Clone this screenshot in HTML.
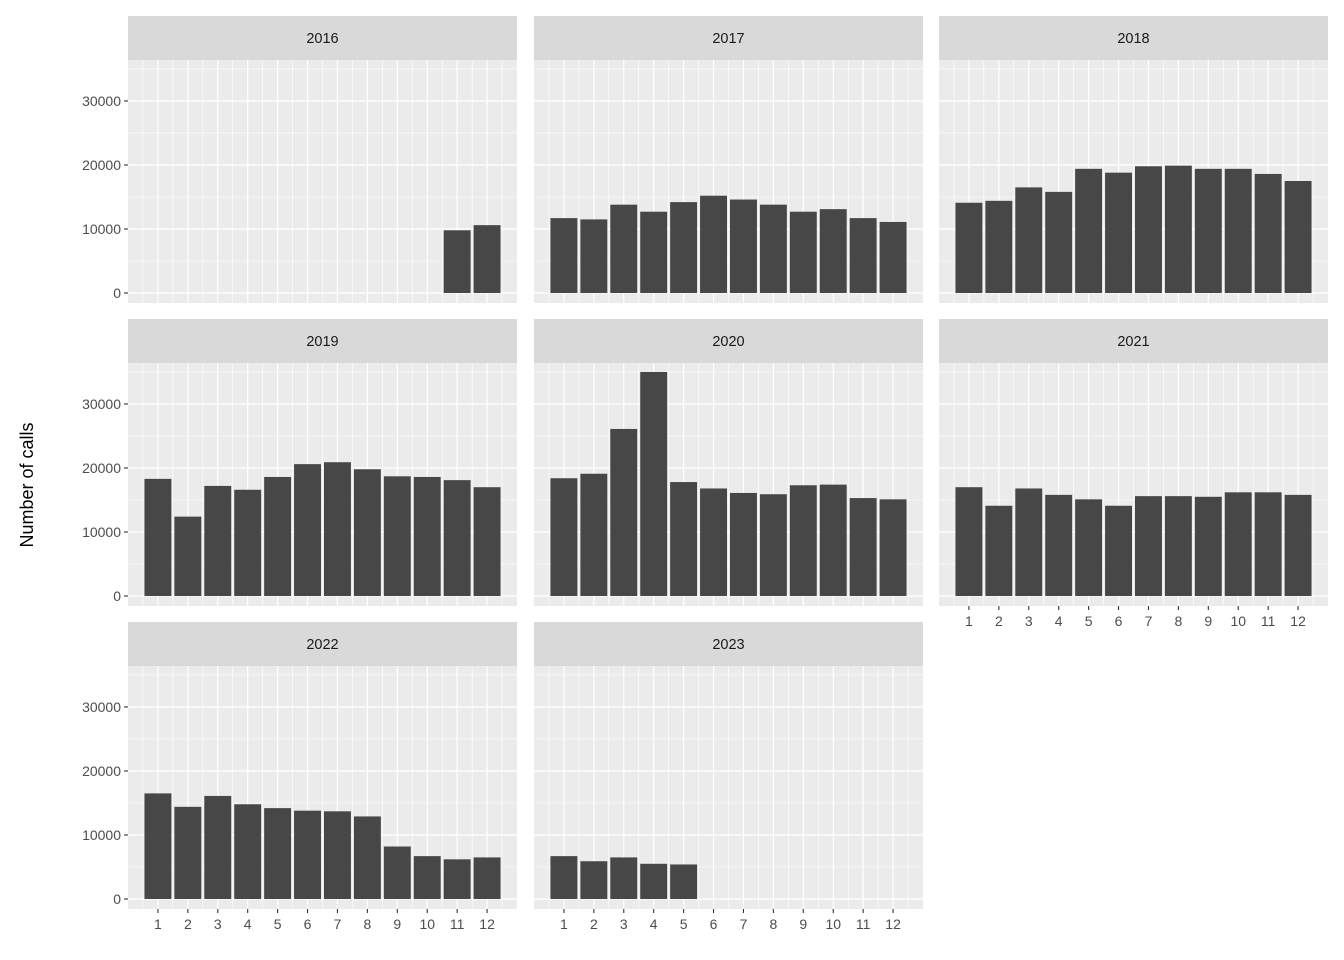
<!DOCTYPE html>
<html><head><meta charset="utf-8"><style>
body{margin:0;background:#fff}
svg{display:block;font-family:"Liberation Sans",Arial,sans-serif}
</style></head><body>
<svg id="c" width="1344" height="960"></svg>
<script>
const years = ["2016","2017","2018","2019","2020","2021","2022","2023"];
const months = [1,2,3,4,5,6,7,8,9,10,11,12];
const yTicks = [0,10000,20000,30000];
const v2016 = [null,null,null,null,null,null,null,null,null,null,9800,10600];
const v2017 = [11700,11500,13800,12700,14200,15200,14600,13800,12700,13100,11700,11100];
const v2018 = [14100,14400,16500,15800,19400,18800,19800,19900,19400,19400,18600,17500];
const v2019 = [18300,12400,17200,16600,18600,20600,20900,19800,18700,18600,18100,17000];
const v2020 = [18400,19100,26100,35000,17800,16800,16100,15900,17300,17400,15300,15100];
const v2021 = [17000,14100,16800,15800,15100,14100,15600,15600,15500,16200,16200,15800];
const v2022 = [16500,14400,16100,14800,14200,13800,13700,12900,8200,6700,6200,6500];
const v2023 = [6700,5900,6500,5500,5400,null,null,null,null,null,null,null];
const series = [v2016,v2017,v2018,v2019,v2020,v2021,v2022,v2023];

const NS="http://www.w3.org/2000/svg";
const svg=document.getElementById('c');
function mk(tag,attrs,parent){const e=document.createElementNS(NS,tag);for(const k in attrs)e.setAttribute(k,attrs[k]);(parent||svg).appendChild(e);return e;}
const colX=[128,534,939], PW=389;
const rowTop=[60,363,666], PH=243, stripH=44;
const yMin=-1560, yMax=36400;
const xMin=0, xMax=13;
const showX=[false,false,false,false,false,true,true,true];
years.forEach((yr,i)=>{
  const col=i%3,row=Math.floor(i/3);
  const x0=colX[col],y0=rowTop[row];
  const sx=v=>x0+(v-xMin)/(xMax-xMin)*PW;
  const sy=v=>y0+PH-(v-yMin)/(yMax-yMin)*PH;
  const g=mk('g',{});
  
  
  const st=mk('rect',{x:x0,y:y0-stripH,width:PW,height:stripH,fill:'#d9d9d9'},g);
  
  const stt=mk('text',{x:x0+PW/2,y:y0-stripH/2+5,'text-anchor':'middle','font-size':'14.5',fill:'#1a1a1a'},g);
  stt.textContent=yr;
  mk('rect',{x:x0,y:y0,width:PW,height:PH,fill:'#ebebeb'},g);
  [5000,15000,25000,35000].forEach(t=>mk('line',{x1:x0,x2:x0+PW,y1:sy(t),y2:sy(t),stroke:'#fff','stroke-width':0.6},g));
  months.forEach(m=>mk('line',{x1:sx(m-0.5),x2:sx(m-0.5),y1:y0,y2:y0+PH,stroke:'#fff','stroke-width':0.6},g));
  mk('line',{x1:sx(12.5),x2:sx(12.5),y1:y0,y2:y0+PH,stroke:'#fff','stroke-width':0.6},g);
  yTicks.forEach(t=>mk('line',{x1:x0,x2:x0+PW,y1:sy(t),y2:sy(t),stroke:'#fff','stroke-width':1.2},g));
  months.forEach(m=>mk('line',{x1:sx(m),x2:sx(m),y1:y0,y2:y0+PH,stroke:'#fff','stroke-width':1.2},g));
  series[i].forEach((v,j)=>{
    if(v==null)return;
    const b=mk('rect',{x:sx(months[j]-0.45),y:sy(v),width:sx(0.9)-sx(0),height:sy(0)-sy(v),fill:'#474747'},g);
    
    
  });
  if(col===0){
    yTicks.forEach(t=>{
      mk('line',{x1:x0-4,x2:x0,y1:sy(t),y2:sy(t),stroke:'#333','stroke-width':1.1},g);
      const tx=mk('text',{x:x0-7,y:sy(t)+5,'text-anchor':'end','font-size':'14',fill:'#4d4d4d'},g);
      tx.textContent=t;
    });
  }
  if(showX[i]){
    months.forEach(m=>{
      mk('line',{x1:sx(m),x2:sx(m),y1:y0+PH,y2:y0+PH+4,stroke:'#333','stroke-width':1.1},g);
      const tx=mk('text',{x:sx(m),y:y0+PH+20,'text-anchor':'middle','font-size':'14',fill:'#4d4d4d'},g);
      tx.textContent=m;
    });
  }
});
const yt=mk('text',{x:0,y:0,transform:'translate(33,485) rotate(-90)','text-anchor':'middle','font-size':'18',fill:'#000'});
yt.textContent='Number of calls';


</script>
</body></html>
